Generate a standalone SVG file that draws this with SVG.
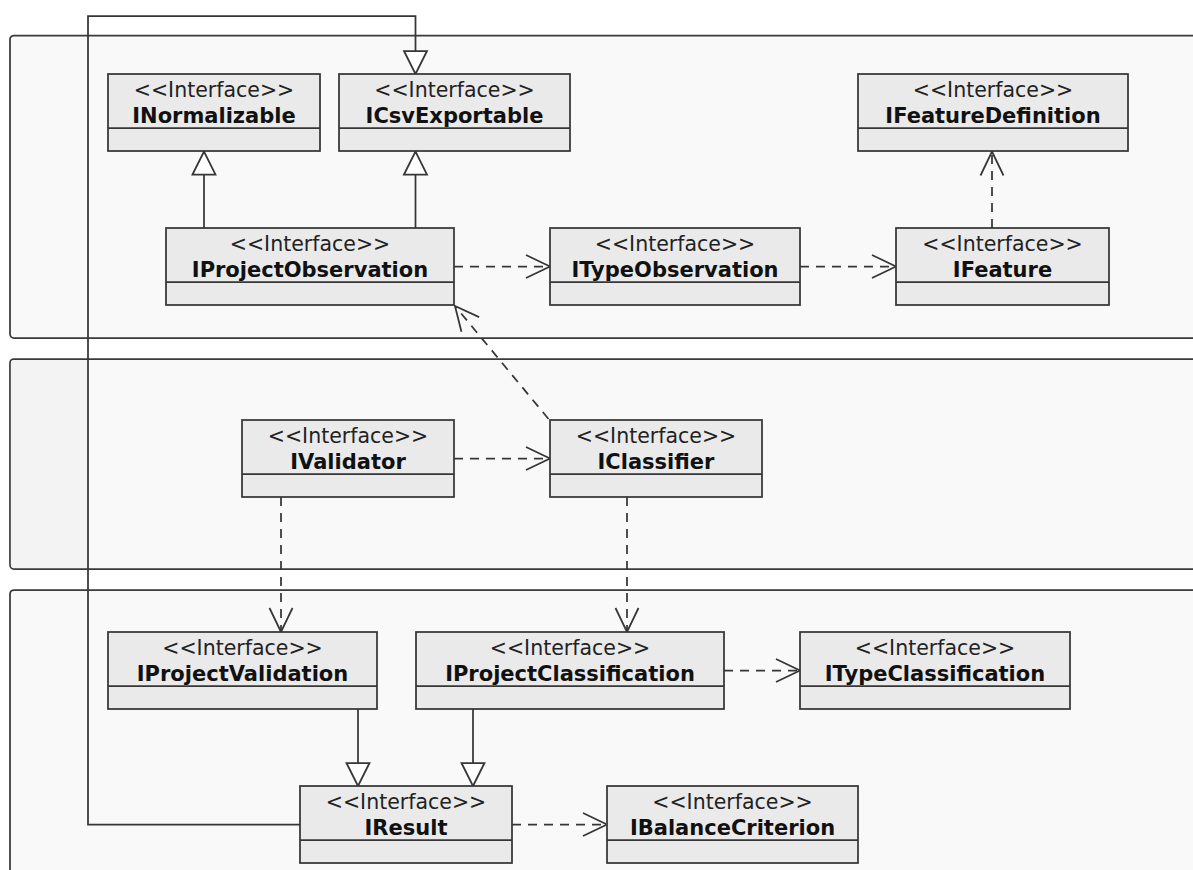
<svg xmlns="http://www.w3.org/2000/svg" width="1193" height="870" viewBox="0 0 1193 870">
  <style>
    .pkg { fill: #f9f9f9; stroke: #3a3a3a; stroke-width: 1.75; }
    .node rect { fill: #eaeaea; stroke: #363636; stroke-width: 1.75; }
    .node line { stroke: #363636; stroke-width: 1.75; }
    .st { font-family: "DejaVu Sans", sans-serif; font-size: 20.5px; fill: #222; text-anchor: middle; }
    .nm { font-family: "DejaVu Sans", sans-serif; font-size: 21px; font-weight: bold; fill: #111; text-anchor: middle; }
    .gen { fill: none; stroke: #363636; stroke-width: 1.75; marker-end: url(#tri); }
    .dep { fill: none; stroke: #363636; stroke-width: 1.75; stroke-dasharray: 9 7; marker-end: url(#open); }
  </style>
  <defs>
    <marker id="open" markerUnits="userSpaceOnUse" viewBox="-27 -14 29 28" refX="0" refY="0" markerWidth="29" markerHeight="28" orient="auto">
      <path d="M-24,-11.5 L0,0 L-24,11.5" fill="none" stroke="#363636" stroke-width="1.75"/>
    </marker>
    <marker id="tri" markerUnits="userSpaceOnUse" viewBox="-26 -14 28 28" refX="0" refY="0" markerWidth="28" markerHeight="28" orient="auto">
      <path d="M-23,-11.5 L0,0 L-23,11.5 Z" fill="#ffffff" stroke="#363636" stroke-width="1.75"/>
    </marker>
  </defs>

  <rect width="1193" height="870" fill="#ffffff"/>

  <!-- packages -->
  <g id="packages">
    <rect class="pkg" x="10" y="35.5" width="1200" height="302.5" rx="4"/>
    <rect class="pkg" x="10" y="359" width="1200" height="210" rx="4"/>
    <path d="M88,359.9 L14,359.9 Q10.9,359.9 10.9,363 L10.9,564.5 Q10.9,568.1 14,568.1 L88,568.1 Z" fill="#f3f3f3"/>
    <rect class="pkg" x="10" y="590" width="1200" height="320" rx="4"/>
  </g>

  <!-- connectors -->
  <g id="connectors">
    <polyline class="gen" points="300,824.5 88,824.5 88,16 415.5,16 415.5,74"/>
    <line class="gen" x1="204" y1="228" x2="204" y2="151.5"/>
    <line class="gen" x1="415.5" y1="228" x2="415.5" y2="151.5"/>
    <line class="gen" x1="358" y1="709" x2="358" y2="786"/>
    <line class="gen" x1="473" y1="709" x2="473" y2="786"/>

    <line class="dep" x1="454" y1="266.5" x2="550" y2="266.5"/>
    <line class="dep" x1="800" y1="266.5" x2="896" y2="266.5"/>
    <line class="dep" x1="992" y1="228" x2="992" y2="151.5"/>
    <line class="dep" x1="548.5" y1="419" x2="455" y2="306"/>
    <line class="dep" x1="454" y1="458.5" x2="550" y2="458.5"/>
    <line class="dep" x1="281" y1="497" x2="281" y2="632"/>
    <line class="dep" x1="627" y1="497" x2="627" y2="632"/>
    <line class="dep" x1="724" y1="670.5" x2="800" y2="670.5"/>
    <line class="dep" x1="512" y1="824.5" x2="607" y2="824.5"/>
  </g>

  <!-- interfaces -->
  <g id="INormalizable" class="node">
    <rect x="108" y="74" width="212" height="77"/>
    <line x1="108" y1="128" x2="320" y2="128"/>
    <text class="st" x="214" y="97">&lt;&lt;Interface&gt;&gt;</text>
    <text class="nm" x="214" y="122.5">INormalizable</text>
  </g>
  <g id="ICsvExportable" class="node">
    <rect x="339" y="74" width="231" height="77"/>
    <line x1="339" y1="128" x2="570" y2="128"/>
    <text class="st" x="454.5" y="97">&lt;&lt;Interface&gt;&gt;</text>
    <text class="nm" x="454.5" y="122.5">ICsvExportable</text>
  </g>
  <g id="IFeatureDefinition" class="node">
    <rect x="858" y="74" width="270" height="77"/>
    <line x1="858" y1="128" x2="1128" y2="128"/>
    <text class="st" x="993" y="97">&lt;&lt;Interface&gt;&gt;</text>
    <text class="nm" x="993" y="122.5">IFeatureDefinition</text>
  </g>
  <g id="IProjectObservation" class="node">
    <rect x="166" y="228" width="288" height="77"/>
    <line x1="166" y1="282" x2="454" y2="282"/>
    <text class="st" x="310" y="251">&lt;&lt;Interface&gt;&gt;</text>
    <text class="nm" x="310" y="276.5">IProjectObservation</text>
  </g>
  <g id="ITypeObservation" class="node">
    <rect x="550" y="228" width="250" height="77"/>
    <line x1="550" y1="282" x2="800" y2="282"/>
    <text class="st" x="675" y="251">&lt;&lt;Interface&gt;&gt;</text>
    <text class="nm" x="675" y="276.5">ITypeObservation</text>
  </g>
  <g id="IFeature" class="node">
    <rect x="896" y="228" width="213" height="77"/>
    <line x1="896" y1="282" x2="1109" y2="282"/>
    <text class="st" x="1002.5" y="251">&lt;&lt;Interface&gt;&gt;</text>
    <text class="nm" x="1002.5" y="276.5">IFeature</text>
  </g>
  <g id="IValidator" class="node">
    <rect x="242" y="420" width="212" height="77"/>
    <line x1="242" y1="474" x2="454" y2="474"/>
    <text class="st" x="348" y="443">&lt;&lt;Interface&gt;&gt;</text>
    <text class="nm" x="348" y="468.5">IValidator</text>
  </g>
  <g id="IClassifier" class="node">
    <rect x="550" y="420" width="212" height="77"/>
    <line x1="550" y1="474" x2="762" y2="474"/>
    <text class="st" x="656" y="443">&lt;&lt;Interface&gt;&gt;</text>
    <text class="nm" x="656" y="468.5">IClassifier</text>
  </g>
  <g id="IProjectValidation" class="node">
    <rect x="108" y="632" width="269" height="77"/>
    <line x1="108" y1="686" x2="377" y2="686"/>
    <text class="st" x="242.5" y="655">&lt;&lt;Interface&gt;&gt;</text>
    <text class="nm" x="242.5" y="680.5">IProjectValidation</text>
  </g>
  <g id="IProjectClassification" class="node">
    <rect x="416" y="632" width="308" height="77"/>
    <line x1="416" y1="686" x2="724" y2="686"/>
    <text class="st" x="570" y="655">&lt;&lt;Interface&gt;&gt;</text>
    <text class="nm" x="570" y="680.5">IProjectClassification</text>
  </g>
  <g id="ITypeClassification" class="node">
    <rect x="800" y="632" width="270" height="77"/>
    <line x1="800" y1="686" x2="1070" y2="686"/>
    <text class="st" x="935" y="655">&lt;&lt;Interface&gt;&gt;</text>
    <text class="nm" x="935" y="680.5">ITypeClassification</text>
  </g>
  <g id="IResult" class="node">
    <rect x="300" y="786" width="212" height="77"/>
    <line x1="300" y1="840" x2="512" y2="840"/>
    <text class="st" x="406" y="809">&lt;&lt;Interface&gt;&gt;</text>
    <text class="nm" x="406" y="834.5">IResult</text>
  </g>
  <g id="IBalanceCriterion" class="node">
    <rect x="607" y="786" width="251" height="77"/>
    <line x1="607" y1="840" x2="858" y2="840"/>
    <text class="st" x="732.5" y="809">&lt;&lt;Interface&gt;&gt;</text>
    <text class="nm" x="732.5" y="834.5">IBalanceCriterion</text>
  </g>
</svg>
